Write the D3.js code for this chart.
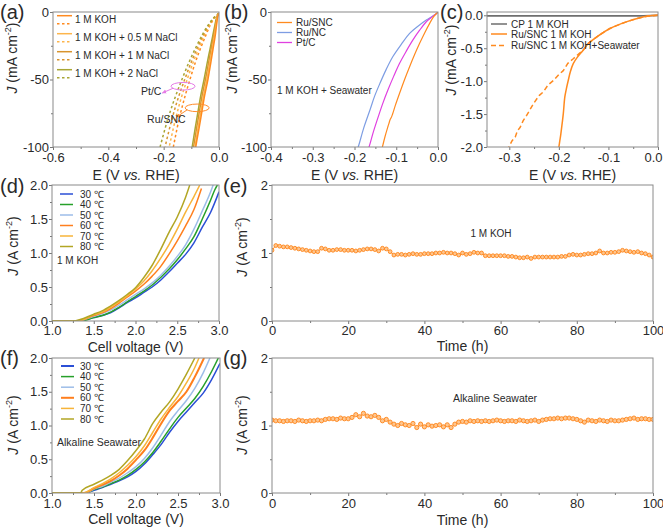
<!DOCTYPE html>
<html><head><meta charset="utf-8">
<script src="https://cdn.jsdelivr.net/npm/d3@7"></script>
<style>
body{margin:0;background:#fff}
svg{display:block}
text{font-family:Arial,"Liberation Sans",sans-serif;fill:#2a2a2a}
</style>
</head><body>
<svg id="c" width="663" height="529"></svg>
<script>
// ---------- Panel (a): HER polarization, Ru/SNC (solid) and Pt/C (dotted) ----------
const aLegend = ["1 M KOH", "1 M KOH + 0.5 M NaCl", "1 M KOH + 1 M NaCl", "1 M KOH + 2 NaCl"];
const aColors = ["#ff8a1f", "#fdb54c", "#d8942e", "#a9a634"];
const aRu_KOH   = [[0,-1],[-0.004,-3],[-0.009,-10],[-0.014,-18],[-0.022,-28],[-0.03,-38],[-0.04,-50],[-0.052,-62],[-0.062,-74],[-0.072,-86],[-0.08,-95],[-0.084,-100]];
const aRu_NaCl05= [[0,-1],[-0.005,-3],[-0.011,-10],[-0.017,-18],[-0.025,-28],[-0.034,-38],[-0.044,-50],[-0.056,-62],[-0.066,-74],[-0.076,-86],[-0.083,-95],[-0.087,-100]];
const aRu_NaCl1 = [[0,-1],[-0.006,-3],[-0.013,-10],[-0.02,-18],[-0.029,-28],[-0.038,-38],[-0.049,-50],[-0.061,-62],[-0.071,-74],[-0.081,-86],[-0.088,-95],[-0.092,-100]];
const aRu_NaCl2 = [[0,-1],[-0.007,-3],[-0.015,-10],[-0.023,-18],[-0.033,-28],[-0.043,-38],[-0.054,-50],[-0.066,-62],[-0.076,-74],[-0.086,-86],[-0.093,-95],[-0.097,-100]];
const aPt_KOH   = [[0,-1],[-0.015,-4],[-0.03,-9],[-0.045,-16],[-0.065,-26],[-0.085,-37],[-0.105,-50],[-0.125,-64],[-0.145,-80],[-0.165,-100]];
const aPt_NaCl05= [[0,-1],[-0.016,-4],[-0.032,-9],[-0.05,-16],[-0.071,-26],[-0.093,-37],[-0.115,-50],[-0.137,-64],[-0.158,-80],[-0.18,-100]];
const aPt_NaCl1 = [[0,-1],[-0.017,-4],[-0.035,-9],[-0.054,-16],[-0.077,-26],[-0.1,-37],[-0.124,-50],[-0.148,-64],[-0.171,-80],[-0.195,-100]];
const aPt_NaCl2 = [[0,-1],[-0.018,-4],[-0.037,-9],[-0.058,-16],[-0.083,-26],[-0.108,-37],[-0.134,-50],[-0.16,-64],[-0.186,-80],[-0.213,-100]];
const aNotes = [{text:"Pt/C",   c:[-0.13,-55],  arrowTo:[-0.205,-60], color:"#e57be6", textAt:[-0.208,-61.5], anchor:"end"},
                {text:"Ru/SNC", c:[-0.079,-71], arrowTo:[-0.155,-78], color:"#ff8c2a", textAt:[-0.26,-82],   anchor:"start"}];

// ---------- Panel (b): 1 M KOH + Seawater ----------
const bNames  = ["Ru/SNC", "Ru/NC", "Pt/C"];
const bColors = ["#ff8a1f", "#7d9de3", "#e040e0"];
const bRuSNC = [[0,0],[-0.005,-1.5],[-0.012,-4.2],[-0.02,-8.4],[-0.032,-15.5],[-0.044,-23.2],[-0.056,-31.5],[-0.068,-40.5],[-0.08,-50],[-0.092,-60.2],[-0.102,-69],[-0.111,-77.5],[-0.115,-80],[-0.117,-82],[-0.12,-85],[-0.127,-92.4],[-0.133,-99.8],[-0.134,-101]];
const bRuNC  = [[0,0],[-0.005,-1.5],[-0.015,-3.5],[-0.028,-5.9],[-0.048,-10.5],[-0.068,-15.8],[-0.088,-24],[-0.108,-33],[-0.124,-42.5],[-0.139,-52.8],[-0.152,-62.5],[-0.163,-72.6],[-0.178,-86],[-0.191,-99.8],[-0.193,-101]];
const bPtC   = [[0,0],[-0.005,-1.5],[-0.015,-3.8],[-0.028,-7.2],[-0.044,-13.5],[-0.06,-20.7],[-0.076,-29],[-0.092,-38],[-0.106,-47.5],[-0.12,-57.8],[-0.132,-67.5],[-0.143,-77.5],[-0.155,-89],[-0.165,-99.8],[-0.167,-101]];

// ---------- Panel (c): low current region ----------
const cNames  = ["CP 1 M KOH", "Ru/SNC 1 M KOH", "Ru/SNC 1 M KOH+Seawater"];
const cColors = ["#6e6e6e", "#ff8a1f", "#ff8a1f"];
const cCP      = [[-0.345,-0.01],[-0.2,-0.01],[-0.1,-0.01],[-0.03,-0.01],[0,0]];
const cRuKOH   = [[0,0],[-0.02,-0.012],[-0.04,-0.045],[-0.064,-0.1],[-0.08,-0.145],[-0.097,-0.2],[-0.11,-0.26],[-0.124,-0.33],[-0.141,-0.43],[-0.151,-0.53],[-0.162,-0.63],[-0.171,-0.734],[-0.177,-0.86],[-0.181,-0.987],[-0.185,-1.12],[-0.188,-1.24],[-0.191,-1.49],[-0.193,-1.62],[-0.196,-1.8],[-0.198,-1.9],[-0.2,-2.0]];
const cRuSea   = [[0,0],[-0.02,-0.012],[-0.04,-0.045],[-0.064,-0.1],[-0.08,-0.145],[-0.097,-0.2],[-0.11,-0.26],[-0.124,-0.33],[-0.141,-0.43],[-0.151,-0.53],[-0.162,-0.6],[-0.171,-0.66],[-0.182,-0.73],[-0.191,-0.84],[-0.2,-0.9],[-0.211,-0.99],[-0.222,-1.06],[-0.231,-1.16],[-0.24,-1.22],[-0.251,-1.34],[-0.258,-1.43],[-0.265,-1.52],[-0.272,-1.6],[-0.278,-1.7],[-0.284,-1.76],[-0.288,-1.85],[-0.294,-1.9],[-0.301,-2.0]];

// ---------- Panels (d), (f): temperature-dependent polarization ----------
const tempNames  = ["30 \u2103", "40 \u2103", "50 \u2103", "60 \u2103", "70 \u2103", "80 \u2103"];
const tempColors = ["#2b4fd6", "#27a02a", "#9dbde8", "#ff7f1e", "#f7b43a", "#b2a624"];
const d30 = [[1.0,0],[1.3,0],[1.4,0.02],[1.5,0.05],[1.6,0.08],[1.7,0.12],[1.8,0.19],[1.9,0.27],[2.0,0.34],[2.1,0.42],[2.2,0.5],[2.3,0.6],[2.4,0.72],[2.5,0.85],[2.6,0.98],[2.7,1.15],[2.8,1.38],[2.9,1.6],[3.0,1.9]];
const d40 = [[1.0,0],[1.35,0],[1.5,0.05],[1.6,0.08],[1.7,0.13],[1.8,0.2],[1.9,0.28],[2.0,0.36],[2.1,0.44],[2.2,0.53],[2.3,0.64],[2.4,0.76],[2.5,0.9],[2.6,1.06],[2.7,1.24],[2.8,1.5],[2.9,1.78],[2.95,1.93],[2.98,2.0]];
const d50 = [[1.0,0],[1.3,0],[1.5,0.07],[1.6,0.11],[1.7,0.16],[1.8,0.23],[1.9,0.31],[2.0,0.39],[2.1,0.47],[2.2,0.56],[2.3,0.67],[2.4,0.8],[2.5,0.95],[2.6,1.12],[2.7,1.35],[2.8,1.62],[2.9,1.9],[2.93,2.0]];
const d60 = [[1.0,0],[1.3,0],[1.5,0.08],[1.6,0.12],[1.7,0.18],[1.8,0.26],[1.9,0.35],[2.0,0.44],[2.1,0.54],[2.2,0.66],[2.3,0.8],[2.4,0.98],[2.5,1.18],[2.6,1.4],[2.7,1.64],[2.79,1.95]];
const d70 = [[1.0,0],[1.3,0],[1.5,0.09],[1.6,0.13],[1.7,0.2],[1.8,0.28],[1.9,0.37],[2.0,0.47],[2.1,0.59],[2.2,0.74],[2.3,0.92],[2.4,1.12],[2.5,1.35],[2.6,1.6],[2.7,1.83],[2.77,2.0]];
const d80 = [[1.0,0],[1.25,0],[1.5,0.1],[1.6,0.15],[1.7,0.22],[1.8,0.3],[1.9,0.39],[2.0,0.49],[2.1,0.64],[2.2,0.82],[2.3,1.05],[2.4,1.3],[2.5,1.53],[2.6,1.82],[2.65,2.0]];
const f30 = [[1.0,0],[1.4,0],[1.5,0.04],[1.6,0.08],[1.7,0.13],[1.8,0.18],[1.9,0.24],[2.0,0.32],[2.1,0.43],[2.2,0.57],[2.3,0.72],[2.4,0.9],[2.5,1.06],[2.6,1.2],[2.7,1.34],[2.8,1.48],[2.9,1.68],[3.0,1.92]];
const f40 = [[1.0,0],[1.4,0],[1.5,0.05],[1.6,0.09],[1.7,0.14],[1.8,0.19],[1.9,0.26],[2.0,0.35],[2.1,0.46],[2.2,0.6],[2.3,0.77],[2.4,0.95],[2.5,1.12],[2.6,1.26],[2.7,1.4],[2.8,1.58],[2.9,1.8],[2.98,2.0]];
const f50 = [[1.0,0],[1.4,0],[1.5,0.06],[1.6,0.1],[1.7,0.16],[1.8,0.22],[1.9,0.3],[2.0,0.39],[2.1,0.51],[2.2,0.67],[2.3,0.86],[2.4,1.06],[2.5,1.22],[2.6,1.37],[2.7,1.55],[2.8,1.78],[2.88,2.0]];
const f60 = [[1.0,0],[1.38,0],[1.5,0.07],[1.6,0.12],[1.7,0.18],[1.8,0.26],[1.9,0.36],[2.0,0.49],[2.1,0.63],[2.2,0.82],[2.3,1.03],[2.4,1.22],[2.5,1.36],[2.6,1.5],[2.7,1.72],[2.81,2.0]];
const f70 = [[1.0,0],[1.37,0],[1.5,0.08],[1.6,0.14],[1.7,0.21],[1.8,0.3],[1.9,0.41],[2.0,0.54],[2.1,0.7],[2.2,0.9],[2.3,1.1],[2.4,1.27],[2.5,1.43],[2.6,1.63],[2.7,1.86],[2.75,2.0]];
const f80 = [[1.0,0],[1.34,0],[1.36,0.04],[1.5,0.13],[1.6,0.19],[1.7,0.26],[1.8,0.35],[1.9,0.48],[2.0,0.63],[2.1,0.8],[2.2,1.03],[2.3,1.2],[2.4,1.35],[2.5,1.54],[2.6,1.76],[2.7,2.0]];

// ---------- Panels (e), (g): stability, J vs time (one value per hour, 0..100 h) ----------
const eJ = [1.04,1.11,1.10,1.09,1.09,1.08,1.07,1.06,1.05,1.04,1.03,1.02,1.02,1.07,1.06,1.04,1.04,1.05,1.05,1.04,
            1.04,1.04,1.03,1.04,1.05,1.06,1.06,1.05,1.03,1.07,1.06,1.02,0.97,0.98,0.98,0.97,0.98,0.99,0.98,0.98,
            0.99,0.99,0.99,1.00,1.00,1.01,1.00,1.00,0.99,0.97,1.00,0.98,0.99,1.01,1.00,1.00,0.96,0.96,0.96,0.96,
            0.96,0.96,0.95,0.95,0.94,0.93,0.93,0.94,0.92,0.94,0.94,0.94,0.94,0.94,0.94,0.94,0.95,0.95,0.97,0.98,
            0.97,0.97,0.98,0.99,0.99,1.00,1.03,1.00,1.00,1.01,1.01,1.02,1.04,1.03,1.02,1.01,1.02,1.00,0.99,0.97,0.94];
const gJ = [1.08,1.07,1.07,1.06,1.07,1.07,1.06,1.08,1.07,1.06,1.07,1.07,1.08,1.07,1.09,1.10,1.10,1.09,1.11,1.10,
            1.10,1.12,1.16,1.13,1.18,1.14,1.13,1.15,1.12,1.07,1.09,1.05,1.02,1.00,1.03,1.01,1.00,1.03,0.97,1.02,
            0.98,1.01,0.99,1.00,1.01,0.98,1.01,0.97,1.02,1.05,1.06,1.05,1.07,1.06,1.07,1.06,1.07,1.06,1.07,1.08,
            1.07,1.06,1.07,1.07,1.06,1.08,1.07,1.06,1.07,1.08,1.06,1.08,1.09,1.10,1.10,1.11,1.10,1.11,1.11,1.10,
            1.09,1.07,1.05,1.08,1.07,1.06,1.08,1.07,1.06,1.08,1.07,1.07,1.08,1.09,1.10,1.11,1.09,1.10,1.10,1.09,1.09];

// ---------- Tick values ----------
const aXTicks = [-0.6,-0.4,-0.2,0.0], aXMinor = [-0.5,-0.3,-0.1];
const JmTicks = [-100,-50,0], JmMinor = [-75,-25];
const bXTicks = [-0.4,-0.3,-0.2,-0.1,0.0], bXMinor = [-0.35,-0.25,-0.15,-0.05];
const cXTicks = [-0.3,-0.2,-0.1,0.0], cXMinor = [-0.25,-0.15,-0.05];
const cYTicks = [-2.0,-1.5,-1.0,-0.5,0.0], cYMinor = [-1.75,-1.25,-0.75,-0.25];
const vTicks = [1.0,1.5,2.0,2.5,3.0], vMinor = [1.25,1.75,2.25,2.75];
const jTicks = [0.0,0.5,1.0,1.5,2.0], jMinor = [0.25,0.75,1.25,1.75];
const tTicks = [0,20,40,60,80,100], tMinor = [10,30,50,70,90];
const sTicks = [0,1,2], sMinor = [0.5,1.5];

// ================= drawing =================
const svg = d3.select("#c");
const defs = svg.append("defs");
[["arrP","#e57be6"],["arrO","#ff8c2a"]].forEach(([id, col]) => {
  defs.append("marker").attr("id", id).attr("viewBox","0 0 10 10").attr("refX",8).attr("refY",5)
    .attr("markerWidth",5).attr("markerHeight",5).attr("orient","auto")
    .append("path").attr("d","M0,1 L9,5 L0,9 z").attr("fill", col);
});

const FONT = 'Arial,"Liberation Sans",sans-serif';
let clipN = 0;

function panel(p) {
  const x = d3.scaleLinear().domain(p.xd).range([p.l, p.r]);
  const y = d3.scaleLinear().domain(p.yd).range([p.b, p.t]);
  const id = "clip" + (clipN++);
  defs.append("clipPath").attr("id", id).append("rect")
    .attr("x", p.l).attr("y", p.t).attr("width", p.r - p.l).attr("height", p.b - p.t);
  const g = svg.append("g");
  const plot = g.append("g").attr("clip-path", `url(#${id})`);
  const ax = g.append("g");
  const xa = ax.append("g").attr("transform", `translate(0,${p.b})`)
    .call(d3.axisBottom(x).tickValues(p.xt).tickSize(3).tickPadding(p.xpad ?? 3).tickSizeOuter(0).tickFormat(p.xf));
  ax.append("g").attr("transform", `translate(0,${p.b})`)
    .call(d3.axisBottom(x).tickValues(p.xm).tickSize(2).tickSizeOuter(0).tickFormat(""));
  ax.append("g").attr("transform", `translate(${p.l},0)`)
    .call(d3.axisLeft(y).tickValues(p.yt).tickSize(3).tickPadding(1).tickSizeOuter(0).tickFormat(p.yf));
  ax.append("g").attr("transform", `translate(${p.l},0)`)
    .call(d3.axisLeft(y).tickValues(p.ym).tickSize(2).tickSizeOuter(0).tickFormat(""));
  ax.selectAll(".domain").remove();
  ax.selectAll("g").attr("font-family", FONT).attr("font-size", 13);
  ax.selectAll(".tick line").attr("stroke", "#777").attr("stroke-width", 1);
  ax.selectAll(".tick text").attr("fill", "#222");
  if (p.lastEnd) {
    const texts = xa.selectAll(".tick text").nodes();
    d3.select(texts[texts.length - 1]).attr("text-anchor", "end").attr("x", 4);
  }
  g.append("rect").attr("x", p.l).attr("y", p.t).attr("width", p.r - p.l).attr("height", p.b - p.t)
    .attr("fill", "none").attr("stroke", "#8a8a8a").attr("stroke-width", 1);
  svg.append("text").attr("x", p.lx).attr("y", p.ly).attr("font-size", 20).attr("fill", "#222").text(p.letter);
  const xt = svg.append("text").attr("x", (p.l + p.r) / 2).attr("y", p.xty).attr("text-anchor", "middle")
    .attr("font-size", 14).attr("fill", "#222");
  if (p.xtitle === "E") {
    xt.append("tspan").text("E (V ");
    xt.append("tspan").attr("font-style", "italic").text("vs.");
    xt.append("tspan").text(" RHE)");
  } else xt.text(p.xtitle);
  const yt = svg.append("text").attr("transform", `translate(${p.ytx},${p.yty}) rotate(-90)`)
    .attr("text-anchor", "middle").attr("font-size", 14).attr("fill", "#222");
  yt.append("tspan").attr("font-style", "italic").text("J");
  yt.append("tspan").text(` (${p.unit} cm`);
  yt.append("tspan").attr("font-size", 9).attr("dy", -6).text("-2");
  yt.append("tspan").attr("dy", 6).text(")");
  return { x, y, plot, g };
}

const fmt1 = d => d.toFixed(1);
const fmt0 = d => d.toFixed(0);

function drawLine(P, data, color, width, dash, curve) {
  const line = d3.line().x(d => P.x(d[0])).y(d => P.y(d[1])).curve(curve || d3.curveCatmullRom.alpha(0.5));
  P.plot.append("path").datum(data).attr("d", line).attr("fill", "none")
    .attr("stroke", color).attr("stroke-width", width).attr("stroke-dasharray", dash || null)
    .attr("stroke-linejoin", "round");
}
function label(P, x, y, txt, size, anchor) {
  P.g.append("text").attr("x", x).attr("y", y).attr("font-size", size || 10)
    .attr("text-anchor", anchor || "start").attr("fill", "#333").text(txt);
}

// ----- (a)
const A = panel({l:53, r:219, t:12, b:147, xd:[-0.6,0], yd:[-100,0], xt:aXTicks, xm:aXMinor, yt:JmTicks, ym:JmMinor,
  xf:fmt1, yf:fmt0, letter:"(a)", lx:0, ly:19, xtitle:"E", xty:180, ytx:17, yty:58, unit:"mA"});
const aRu = [aRu_KOH, aRu_NaCl05, aRu_NaCl1, aRu_NaCl2];
const aPt = [aPt_KOH, aPt_NaCl05, aPt_NaCl1, aPt_NaCl2];
aPt.forEach((d, i) => drawLine(A, d, aColors[i], 1.5, "2.5,2.5"));
aRu.slice().reverse().forEach((d, i) => drawLine(A, d, aColors[3 - i], 1.5));
aLegend.forEach((name, i) => {
  const yy = 15.7 + i * 18;
  A.g.append("line").attr("x1", 57).attr("x2", 72).attr("y1", yy).attr("y2", yy).attr("stroke", aColors[i]).attr("stroke-width", 1.5);
  A.g.append("line").attr("x1", 57).attr("x2", 72).attr("y1", yy + 8).attr("y2", yy + 8).attr("stroke", aColors[i]).attr("stroke-width", 1.5).attr("stroke-dasharray", "2.5,2.5");
  label(A, 75, yy + 7.5, name, 10);
});
aNotes.forEach(n => {
  const cx = A.x(n.c[0]), cy = A.y(n.c[1]);
  A.g.append("ellipse").attr("cx", cx).attr("cy", cy).attr("rx", 12).attr("ry", 3.8)
    .attr("fill", "none").attr("stroke", n.color).attr("stroke-width", 1);
  A.g.append("line").attr("x1", cx - 10).attr("y1", cy + 2).attr("x2", A.x(n.arrowTo[0])).attr("y2", A.y(n.arrowTo[1]))
    .attr("stroke", n.color).attr("stroke-width", 1).attr("marker-end", n.text === "Pt/C" ? "url(#arrP)" : "url(#arrO)");
  label(A, A.x(n.textAt[0]), A.y(n.textAt[1]), n.text, 10.5, n.anchor);
});

// ----- (b)
const B = panel({l:271, r:438, t:12, b:147, xd:[-0.4,0], yd:[-100,0], xt:bXTicks, xm:bXMinor, yt:JmTicks, ym:JmMinor,
  xf:fmt1, yf:fmt0, letter:"(b)", lx:224, ly:19, xtitle:"E", xty:180, ytx:237, yty:58, unit:"mA"});
drawLine(B, bRuNC, bColors[1], 1.2);
drawLine(B, bPtC, bColors[2], 1.2);
drawLine(B, bRuSNC, bColors[0], 1.2);
bNames.forEach((name, i) => {
  const yy = 22.5 + i * 10;
  B.g.append("line").attr("x1", 277).attr("x2", 292).attr("y1", yy).attr("y2", yy).attr("stroke", bColors[i]).attr("stroke-width", 1.3);
  label(B, 296, yy + 3.5, name, 10);
});
label(B, 277, 94, "1 M KOH + Seawater", 10);

// ----- (c)
const C = panel({l:487, r:658, t:12, b:147, xd:[-0.345,0], yd:[-2,0.05], xt:cXTicks, xm:cXMinor, yt:cYTicks, ym:cYMinor,
  xf:fmt1, yf:fmt1, letter:"(c)", lx:440, ly:19, xtitle:"E", xty:180, ytx:456, yty:60, unit:"mA", lastEnd:true});
drawLine(C, cCP, cColors[0], 1.8, null, d3.curveLinear);
drawLine(C, cRuSea, cColors[2], 1.5, "5,3", d3.curveLinear);
drawLine(C, cRuKOH, cColors[1], 1.5);
cNames.forEach((name, i) => {
  const yy = [24, 34, 45.5][i];
  C.g.append("line").attr("x1", 491).attr("x2", 507).attr("y1", yy).attr("y2", yy).attr("stroke", cColors[i])
    .attr("stroke-width", 1.5).attr("stroke-dasharray", i === 2 ? "5,3" : null);
  label(C, 511, yy + 3.5, name, 10);
});

// ----- (d)
const D = panel({l:52, r:219, t:185, b:321, xd:[1,3], yd:[0,2], xt:vTicks, xm:vMinor, yt:jTicks, ym:jMinor,
  xf:fmt1, yf:fmt1, letter:"(d)", lx:0, ly:193, xtitle:"Cell voltage (V)", xty:351.5, xpad:2, ytx:18, yty:246, unit:"A"});
[d30, d40, d50, d60, d70, d80].forEach((d, i) => drawLine(D, d, tempColors[i], 1.5, null, d3.curveMonotoneX));
tempNames.forEach((name, i) => {
  const yy = 194 + i * 10.5;
  D.g.append("line").attr("x1", 60).attr("x2", 73).attr("y1", yy).attr("y2", yy).attr("stroke", tempColors[i]).attr("stroke-width", 1.5);
  label(D, 80, yy + 3.5, name, 10);
});
label(D, 57, 264, "1 M KOH", 10);

// ----- (e)
const E = panel({l:272, r:653, t:185, b:321, xd:[0,100], yd:[0,2], xt:tTicks, xm:tMinor, yt:sTicks, ym:sMinor,
  xf:fmt0, yf:fmt0, letter:"(e)", lx:223, ly:193, xtitle:"Time (h)", xty:351, xpad:2, ytx:247, yty:247, unit:"A"});
function stability(P, vals, r) {
  const pts = vals.map((v, i) => [i, v]);
  drawLine(P, pts, "#ff8a1f", 1, null, d3.curveLinear);
  P.plot.selectAll("circle.m").data(pts).join("circle").attr("class", "m")
    .attr("cx", d => P.x(d[0])).attr("cy", d => P.y(d[1])).attr("r", r)
    .attr("fill", "#fdc690").attr("stroke", "#ff8418").attr("stroke-width", 0.9);
}
stability(E, eJ, 1.9);
label(E, 491, 237, "1 M KOH", 10, "middle");

// ----- (f)
const F = panel({l:52, r:220, t:358, b:493, xd:[1,3], yd:[0,2], xt:vTicks, xm:vMinor, yt:jTicks, ym:jMinor,
  xf:fmt1, yf:fmt1, letter:"(f)", lx:0, ly:365, xtitle:"Cell voltage (V)", xty:524, ytx:18, yty:425, unit:"A"});
[f30, f40, f50, f60, f70, f80].forEach((d, i) => drawLine(F, d, tempColors[i], i === 3 ? 2 : 1.5, null, d3.curveMonotoneX));
tempNames.forEach((name, i) => {
  const yy = 366 + i * 10.6;
  F.g.append("line").attr("x1", 61).attr("x2", 74).attr("y1", yy).attr("y2", yy).attr("stroke", tempColors[i]).attr("stroke-width", i === 3 || i === 0 ? 2 : 1.5);
  label(F, 80, yy + 3.5, name, 10);
});
label(F, 57, 446, "Alkaline Seawater", 10.5);

// ----- (g)
const G = panel({l:272, r:653, t:358, b:493, xd:[0,100], yd:[0,2], xt:tTicks, xm:tMinor, yt:sTicks, ym:sMinor,
  xf:fmt0, yf:fmt0, letter:"(g)", lx:223, ly:365, xtitle:"Time (h)", xty:525, ytx:247, yty:425, unit:"A"});
stability(G, gJ, 2.1);
label(G, 495, 402, "Alkaline Seawater", 10.5, "middle");
</script>
</body></html>
